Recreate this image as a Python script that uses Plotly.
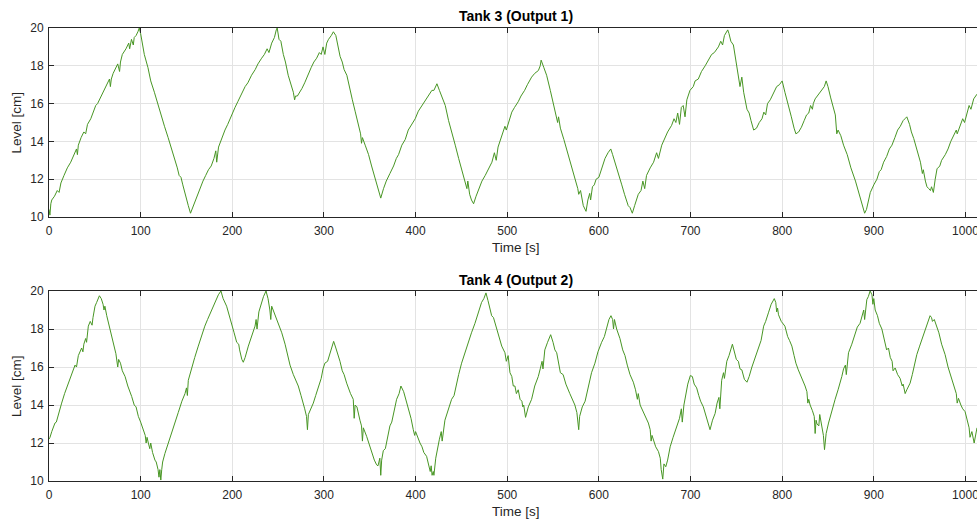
import plotly.graph_objects as go

# ---------------- data ----------------
tank3_time = [0,1,2,3,6,9,11,13,16.4,20,23.7,27,30,31,32,35,38,40,42,45.6,49,51,53,56,60,63,66,67,68,70,73,75,77,78,80,84,87,88,90,92,93,95,97,98.5,100,102,104,108,111,115,119,123,126,130,134,137,140,142,144,146,148,150,152,154.4,156,158,160.6,164,168,171,174,177,180,182,183,185,188,192,195,199,203,206,210,214,217,221,225,228,232,235,238,240,243,246,248,249,251,253,255.7,258,261,263,266.6,268,269,271,273.8,276,279,283,286,289,292,295,297,299,301,303,305,308,310.3,313,315,317.6,320,322,325,328,331,334,338,340,341,342,345,348.7,352,356,359,362,365,368,372,376,379,381.4,385,388.7,392,396,399.6,403,407,410.5,414,417.8,420,423.3,426,429,432.4,436,440,443.3,447,451,454.2,456,457,459,461,463.3,466,469,472.4,476,480,483.3,486,488,490,494,497.5,499,501.5,505,508,512,515,519,522,526.6,530,534,536,537,540,543,547,552,555,556,558,561.8,566,570,574,577,578,580,583,586,588,590,591,593,595,597,600,603,606.7,610,613,615,617.7,621,625,628,632,634,636.5,639,643,646,648,650,652,656,659.7,663,665,668.6,672,675,679.4,682,684,686,688,690,692,694,696,699.4,703,705,708.5,712,716,719.4,723,726,730.4,733,735,737,740.6,742,744,746.8,749,752,754,756,758,761.6,764,766,768.9,772,775,778,780,782,784,787,790,794,797,800,803,807,810,813,815,818,821,824,826.6,829,831,833,834,836,840,843,846,848,850,853,856,858,859.6,861,864,867,871,875,880,883,886,888,890,892,894,896.2,900,903.4,906,908,910.7,914,917,919.8,923,926,928.9,932,934,936,939,941,943.6,947,950.9,953,954,956.3,958,960,961.8,963,965,967,969,972,974,978,981,984,987,990,991,994.4,997,999,1001.6,1004,1006,1009,1012.6]
tank3_level = [10.4,10.1,10.7,10.9,11.1,11.4,11.3,11.8,12.2,12.6,12.9,13.3,13.6,13.3,13.8,14.2,14.5,14.4,14.9,15.2,15.6,15.9,16.0,16.3,16.7,17.0,17.3,16.9,17.3,17.6,17.9,18.1,17.7,18.2,18.6,18.9,19.2,18.9,19.4,19.1,19.5,19.6,19.8,20.0,19.7,19.1,18.6,17.9,17.2,16.6,15.9,15.3,14.8,14.2,13.6,13.1,12.6,12.2,12.1,11.7,11.3,11.0,10.6,10.2,10.4,10.7,11.0,11.4,11.9,12.2,12.5,12.7,13.1,13.5,12.9,13.7,14.1,14.6,14.9,15.4,15.8,16.1,16.5,16.9,17.1,17.5,17.8,18.1,18.4,18.6,18.9,18.7,19.2,19.5,19.9,20.0,19.4,19.3,18.6,18.2,17.5,17.2,16.6,16.2,16.4,16.4,16.6,16.8,17.1,17.6,17.9,18.2,18.4,18.7,18.6,19.0,18.6,19.2,19.4,19.6,19.8,19.6,19.1,18.5,18.2,17.8,17.5,16.8,16.2,15.6,14.8,14.4,13.9,14.2,13.8,13.3,12.7,12.0,11.5,11.0,11.5,11.9,12.3,12.7,13.1,13.3,13.8,14.1,14.6,14.9,15.2,15.6,15.9,16.2,16.4,16.7,16.7,17.05,16.7,16.3,15.9,15.1,14.3,13.8,13.1,12.4,11.9,11.5,11.9,11.2,10.9,10.7,11.1,11.5,11.9,12.2,12.6,12.9,13.4,13.0,13.7,14.3,14.8,14.6,15.0,15.55,15.8,16.1,16.4,16.7,17.0,17.4,17.6,17.75,18.0,18.3,17.9,17.5,16.7,15.6,15.0,15.3,14.7,14.1,13.4,12.6,12.0,11.5,11.2,11.4,10.6,10.3,10.9,11.25,10.9,11.6,11.7,12.0,12.1,12.6,13.1,13.4,13.6,13.3,12.9,12.3,11.7,11.2,10.6,10.5,10.2,10.6,11.2,11.4,11.9,11.5,12.2,12.6,12.9,13.4,13.1,13.8,14.2,14.5,14.85,15.2,15.0,15.5,14.9,15.8,15.9,15.3,16.2,16.7,16.9,17.2,17.3,17.7,18.0,18.3,18.6,18.7,19.0,19.3,19.1,19.6,19.9,19.7,19.3,19.1,18.4,17.7,16.9,17.4,16.6,15.7,15.5,15.1,14.6,14.7,15.0,15.2,15.55,15.4,16.0,16.2,16.5,16.9,17.0,17.2,16.6,15.9,15.3,14.7,14.4,14.5,14.75,15.1,15.4,15.5,15.9,15.7,16.0,16.25,16.5,16.7,16.9,17.2,16.9,16.3,15.7,15.4,14.4,14.6,14.3,13.8,13.3,12.6,11.9,11.4,11.0,10.6,10.2,10.4,10.9,11.3,11.7,12.0,12.4,12.5,12.9,13.2,13.6,13.8,14.2,14.6,14.8,15.1,15.2,15.3,14.9,14.5,14.15,13.6,12.9,12.3,12.5,11.9,11.6,11.5,11.4,11.6,11.3,12.0,12.55,12.7,13.0,13.3,13.6,14.0,14.3,14.6,14.4,14.9,15.2,15.0,15.55,15.9,15.7,16.25,16.5]

tank4_time = [0,1.1,3,6.5,8,10,13.8,17,21,23,25,28.4,30,32,35.6,37,38,40,41,42.9,45,47,48,50.2,52,55,57,59,60,61,63,65,68.4,71,73,75,76,78,80,83,86,90.2,93,95,97.5,100,103,105,106,107,108.4,110,111,113,115.6,117,119,120,121,122,123,124,126.5,130,133.8,137,141,145,148.4,150,151,152,155.6,159,162.9,166,170,173,177.5,181,184.8,187.6,190,193.8,197,199.4,202,204.8,207,208,210.4,212,214,217.5,220,222,224.8,226,227,229,232,234,236.8,239,241,242,243,246,249,252,254,257.6,261,263,266.6,270,272,275,277.5,279,281,282,283,285,288.4,291,294,297,299,301,304,306.6,308,310.6,313,315,317.5,320,322,324.8,327,329,332,333,334,336,339.3,341,342,343,346.6,349,352,355,357.5,359,361,362,363,364.8,367,370,372,374,376,379.3,382,384,387,390,393,395,397.5,399,400,402,404.8,407,409,412,414,416,417,418,419.3,420,422,424.8,426,428,429,432,435,437,439.3,442,444.8,447,450.2,454,457.5,461,464.8,468,472,474.5,476.8,479,481,483,485,488.4,491,494,497.5,499,501,503,505,506.6,508.4,510,512,514,516,517,518,520,523,526.6,530,533.9,536,538,539,541,544,547.4,550,552,554,556,558,561,564,568.3,571,573.8,576,578,579,581.9,585,588.4,592,595.7,599,603,606,608.5,611,613.2,615,616,617,619.4,623,626,628.5,631,634,637.6,640,642,643,645,648,651,654,656,657,658,659.5,662,665,667,668,669.7,671,673,675,677.8,681,685,688,690,691,692.8,695,697,699.8,702,704,706.7,709,711,714,717,719,721.3,724,726.8,729,731,732,734,736,737,739.6,742,745.7,748,750,752.2,754,756,758.8,761.6,764,767,770,772.3,775,777,779.8,782,785,788,791.4,793,794,795,796,799,803,806,808,810.6,813,815,817.6,820,822,825,827,828,829,830.5,833,835,836,837,838,840,841,843.3,845,846.2,848,850.6,853,855,857.8,861,863,865.1,867,869,870,872.4,876,879.7,882,885,887,889,890,892.4,894,896,898,899,900,901.5,904,906,908.8,911,913,914,916,918,920,921,923.3,926,928.7,931,932,934.2,936,938,939.6,942,945,946.9,950,954.2,957,959,961.4,963,964,966,968.7,971,974,977.8,981,985,988,990,991,992.4,995,997,999.6,1002,1004,1005,1007,1009.5,1011,1012.6]
tank4_level = [12.2,12.3,12.6,13.05,13.1,13.4,14.1,14.6,15.1,15.4,15.7,16.1,16.0,16.6,17.0,16.8,17.2,17.5,17.3,18.15,18.4,18.2,18.6,19.2,19.4,19.75,19.6,19.3,19.0,19.2,18.7,18.3,17.6,17.0,16.7,16.0,16.4,16.2,15.8,15.5,15.0,14.45,14.0,13.9,13.4,13.1,12.7,12.4,12.0,12.3,12.0,11.7,12.0,11.5,11.1,11.0,10.6,10.2,10.6,10.05,10.6,11.0,11.45,12.0,12.5,13.0,13.6,14.2,14.6,14.9,14.5,15.3,15.85,16.5,17.1,17.6,18.15,18.5,19.0,19.4,19.8,20.0,19.6,19.2,18.6,18.15,17.8,17.3,17.2,16.9,16.4,16.25,16.5,17.1,17.5,17.7,18.15,18.5,18.0,18.9,19.4,19.7,20.0,19.6,19.0,18.5,19.2,18.8,18.4,18.0,17.8,17.2,16.55,16.1,15.6,15.2,15.0,14.5,14.1,13.8,13.4,12.7,13.5,13.7,14.1,14.5,15.0,15.4,15.9,16.2,16.3,16.75,16.9,17.35,17.0,16.7,16.3,15.8,15.6,15.15,14.8,14.6,14.3,13.3,14.0,13.9,13.2,12.9,12.1,12.8,12.35,12.0,11.45,11.1,10.85,10.8,11.2,10.3,11.1,11.6,11.7,12.4,12.9,13.1,13.6,14.3,14.6,15.0,14.7,14.2,13.7,13.3,12.7,12.4,12.6,12.3,12.0,11.8,11.5,11.3,10.9,10.5,10.8,10.3,10.5,10.3,11.2,12.0,12.2,12.6,12.1,13.2,13.7,14.0,14.3,14.5,15.15,15.6,16.2,16.8,17.3,17.8,18.3,18.8,19.4,19.6,19.9,19.5,19.1,18.7,18.6,18.0,17.6,17.1,16.75,16.3,16.6,15.7,15.5,15.0,15.0,14.6,14.8,14.3,14.2,13.9,14.0,13.35,13.9,14.3,15.0,15.5,15.9,16.3,15.9,16.9,17.3,17.7,17.3,16.9,16.75,16.1,15.7,15.6,15.1,14.6,14.3,14.0,13.6,12.7,13.4,13.9,14.2,15.0,15.7,16.2,16.8,17.3,17.6,18.05,18.5,18.7,18.5,18.0,18.5,18.0,17.5,16.9,16.6,16.1,15.6,15.2,14.8,14.3,14.6,14.0,13.7,13.4,13.05,12.7,12.1,12.4,12.15,11.8,11.55,11.2,10.6,10.1,10.9,10.75,11.1,11.8,12.3,12.9,13.3,13.8,13.1,14.0,14.6,15.1,15.55,15.5,15.1,14.9,14.5,14.2,13.9,13.4,13.0,12.7,13.2,13.55,14.1,14.4,13.8,15.3,15.7,15.4,16.3,16.6,17.2,16.8,16.4,16.3,15.9,15.85,15.35,15.2,15.5,16.0,16.4,16.8,17.1,17.4,18.15,18.4,18.85,19.3,19.6,19.4,18.9,19.1,18.75,18.4,18.15,17.6,17.4,17.1,16.6,16.2,15.85,15.6,15.3,15.0,14.7,14.1,14.3,14.0,13.7,13.4,12.5,13.2,13.0,12.9,13.5,12.85,12.4,11.65,12.5,13.05,13.5,13.9,14.3,14.8,15.1,15.5,15.9,16.1,15.6,16.75,17.2,17.8,18.1,18.3,18.7,19.0,18.5,19.55,19.7,20.0,19.8,19.3,19.6,19.0,18.7,18.3,18.0,17.5,17.2,16.9,17.0,16.5,16.3,15.8,15.95,15.6,15.4,15.0,15.1,14.6,14.8,15.0,15.15,15.6,16.2,16.65,17.1,17.7,18.0,18.4,18.7,18.6,18.4,18.5,18.15,17.8,17.2,16.65,16.0,15.4,14.9,14.6,14.1,14.35,14.0,13.8,13.65,13.1,12.8,12.3,12.6,12.0,12.5,12.8]

panel_titles = ["Tank 3 (Output 1)", "Tank 4 (Output 2)"]
x_label = "Time [s]"
y_label = "Level [cm]"
x_ticks = [0, 100, 200, 300, 400, 500, 600, 700, 800, 900, 1000]
y_ticks = [10, 12, 14, 16, 18, 20]

# ---------------- figure ----------------
W, H = 977, 522
L = 49
line_color = "rgb(72,150,36)"
axis_color = "#262626"
grid_color = "#e3e3e3"
font_family = "Liberation Sans, Arial, Helvetica, sans-serif"

fig = go.Figure()
fig.add_trace(go.Scatter(x=tank3_time, y=tank3_level, mode="lines",
                         line=dict(color=line_color, width=1), xaxis="x", yaxis="y",
                         showlegend=False))
fig.add_trace(go.Scatter(x=tank4_time, y=tank4_level, mode="lines",
                         line=dict(color=line_color, width=1), xaxis="x2", yaxis="y2",
                         showlegend=False))

def py(px):
    return 1 - px / H

def xax(anchor):
    return dict(range=[0, 1012.6], domain=[0, 1], anchor=anchor,
                tickmode="array", tickvals=x_ticks,
                ticks="inside", ticklen=5, tickcolor=axis_color, tickwidth=1,
                showline=True, linecolor=axis_color, linewidth=1, mirror="allticks",
                showgrid=True, gridcolor=grid_color, gridwidth=1, zeroline=False,
                tickfont=dict(size=12, color=axis_color, family=font_family),
                ticklabelstandoff=3, ticklabeloverflow="allow", automargin=False)

def yax(anchor, dom):
    return dict(range=[10, 20], domain=dom, anchor=anchor,
                tickmode="array", tickvals=y_ticks,
                ticks="inside", ticklen=5, tickcolor=axis_color, tickwidth=1,
                showline=True, linecolor=axis_color, linewidth=1,
                showgrid=True, gridcolor=grid_color, gridwidth=1, zeroline=False,
                tickfont=dict(size=12, color=axis_color, family=font_family),
                ticklabelstandoff=2, automargin=False)

fig.update_layout(
    width=W, height=H,
    margin=dict(l=L, r=0, t=0, b=0, autoexpand=False),
    paper_bgcolor="white", plot_bgcolor="white",
    font=dict(family=font_family, color=axis_color),
    xaxis=xax("y"),
    yaxis=yax("x", [py(217), py(28)]),
    xaxis2=xax("y2"),
    yaxis2=yax("x2", [py(481), py(291)]),
)

def px_x(px):
    return (px - L) / (W - L)

annots = []
for title, ty, xl_y, yl_y in [(panel_titles[0], 16, 247, 122.5), (panel_titles[1], 280, 511, 386)]:
    annots.append(dict(text="<b>" + title + "</b>", x=px_x(516), y=py(ty), xref="paper", yref="paper",
                       showarrow=False, xanchor="center", yanchor="middle",
                       font=dict(size=14, color="black", family=font_family)))
    annots.append(dict(text=x_label, x=px_x(516), y=py(xl_y), xref="paper", yref="paper",
                       showarrow=False, xanchor="center", yanchor="middle",
                       font=dict(size=13.5, color=axis_color, family=font_family)))
    annots.append(dict(text=y_label, x=px_x(16), y=py(yl_y), xref="paper", yref="paper",
                       showarrow=False, xanchor="center", yanchor="middle", textangle=-90,
                       font=dict(size=13.5, color=axis_color, family=font_family)))
fig.update_layout(annotations=annots)

fig.write_html("out.html")
